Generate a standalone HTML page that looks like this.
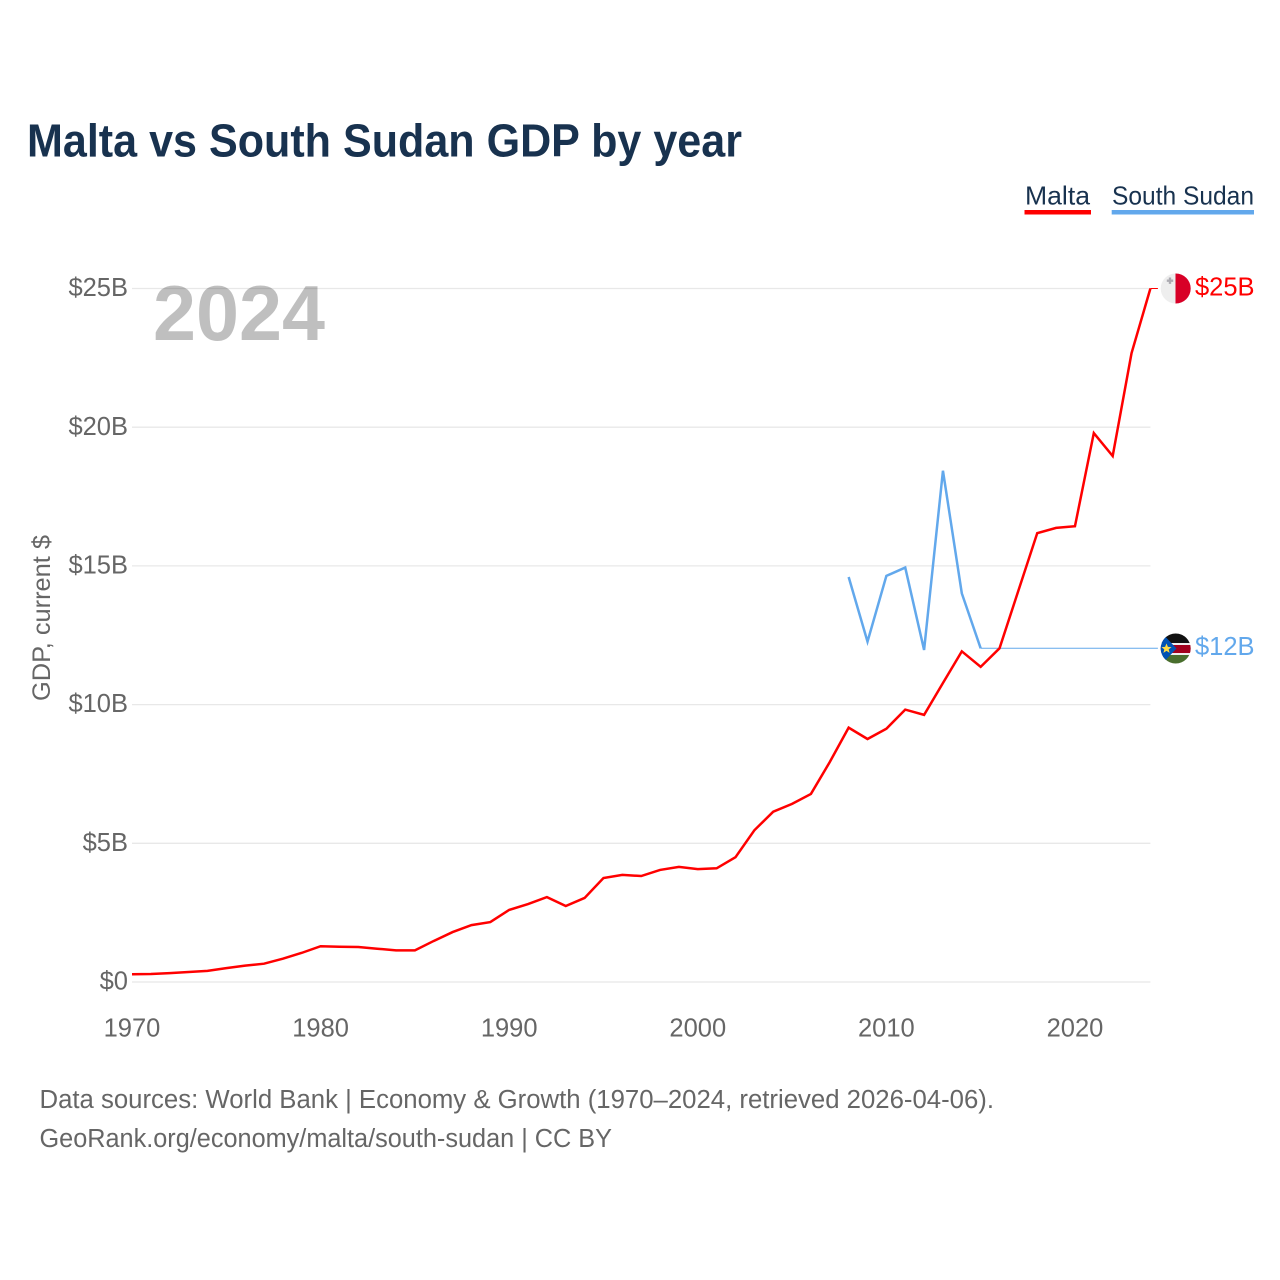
<!DOCTYPE html>
<html lang="en">
<head>
<meta charset="utf-8">
<title>Malta vs South Sudan GDP by year</title>
<style>
html,body{margin:0;padding:0;background:#fff;}
svg{display:block;font-family:"Liberation Sans",sans-serif;}
</style>
</head>
<body>
<svg id="chart" xmlns="http://www.w3.org/2000/svg" width="1280" height="1280" viewBox="0 0 1280 1280">
  <defs>
    <clipPath id="malta-clip"><circle cx="1175.7" cy="288.5" r="15"/></clipPath>
    <clipPath id="ssd-clip"><circle cx="1175.7" cy="648.5" r="15"/></clipPath>
  </defs>
  <rect width="1280" height="1280" fill="#fff"/>

  <text x="27" y="156.5" font-size="46.5" font-weight="700" fill="#18324f" textLength="715" lengthAdjust="spacingAndGlyphs">Malta vs South Sudan GDP by year</text>

  <g>
    <g>
      <text x="1025" y="204.5" font-size="26" fill="#18324f" textLength="65" lengthAdjust="spacingAndGlyphs">Malta</text>
      <rect x="1024.5" y="210" width="66.5" height="4.5" fill="#ff0000"/>
    </g>
    <g>
      <text x="1112" y="204.5" font-size="26" fill="#18324f" textLength="142" lengthAdjust="spacingAndGlyphs">South Sudan</text>
      <rect x="1111.7" y="210" width="142.3" height="4.5" fill="#62a8ec"/>
    </g>
  </g>

  <g id="grid"></g>
  <g id="y-axis"></g>
  <g id="x-axis"></g>

  <text transform="translate(50,701) rotate(-90)" font-size="25" fill="#666" textLength="166" lengthAdjust="spacingAndGlyphs">GDP, current $</text>

  <g id="series"></g>

  <text id="year-label" x="153" y="340" font-size="78" font-weight="700" fill="#000" fill-opacity="0.25" textLength="172" lengthAdjust="spacingAndGlyphs">2024</text>

  <g clip-path="url(#malta-clip)">
    <rect x="1160" y="273" width="16" height="31" fill="#eeeeee"/>
    <rect x="1175.5" y="273" width="16" height="31" fill="#d80027"/>
    <path d="M1168.8 277.5h2.4v2h2v2.4h-2v2h-2.4v-2h-2v-2.4h2z" fill="#acabb1"/>
  </g>
  <g clip-path="url(#ssd-clip)">
    <rect x="1160" y="633" width="32" height="10" fill="#111"/>
    <rect x="1160" y="643" width="32" height="12" fill="#eee"/>
    <rect x="1160" y="645" width="32" height="8" fill="#a2001d"/>
    <rect x="1160" y="655" width="32" height="10" fill="#496e2d"/>
    <path d="M1160 631L1176.5 648.5L1160 666z" fill="#0052b4"/>
    <path d="M1166.5 643.5l1.4 3.4 3.6.2-2.8 2.3.9 3.5-3.1-2-3.1 2 .9-3.5-2.8-2.3 3.6-.2z" fill="#ffda44"/>
  </g>

  <text x="39.5" y="1108" font-size="25.5" fill="#666" textLength="954.5" lengthAdjust="spacingAndGlyphs">Data sources: World Bank | Economy &amp; Growth (1970–2024, retrieved 2026-04-06).</text>
  <text x="39.5" y="1147" font-size="25.5" fill="#666" textLength="572.5" lengthAdjust="spacingAndGlyphs">GeoRank.org/economy/malta/south-sudan | CC BY</text>
</svg>
<script>
const years = [1970,1971,1972,1973,1974,1975,1976,1977,1978,1979,1980,1981,1982,1983,1984,1985,1986,1987,1988,1989,1990,1991,1992,1993,1994,1995,1996,1997,1998,1999,2000,2001,2002,2003,2004,2005,2006,2007,2008,2009,2010,2011,2012,2013,2014,2015,2016,2017,2018,2019,2020,2021,2022,2023,2024];
const maltaGdp = [0.28,0.29,0.32,0.36,0.40,0.50,0.59,0.66,0.84,1.05,1.29,1.27,1.26,1.20,1.14,1.14,1.48,1.80,2.05,2.16,2.60,2.81,3.06,2.74,3.03,3.75,3.86,3.82,4.04,4.15,4.07,4.10,4.50,5.47,6.14,6.42,6.78,7.93,9.17,8.76,9.13,9.82,9.63,10.78,11.92,11.36,12.03,14.11,16.18,16.37,16.43,19.79,18.96,22.67,25.0];
const southSudanYears = [2008,2009,2010,2011,2012,2013,2014,2015];
const southSudanGdp = [14.60,12.27,14.64,14.94,11.97,18.43,14.01,12.03];
const yTickValues = [0,5,10,15,20,25];
const yTickLabels = ['$0','$5B','$10B','$15B','$20B','$25B'];
const xTickValues = [1970,1980,1990,2000,2010,2020];
const xTickLabels = ['1970','1980','1990','2000','2010','2020'];
const maltaLabel = '$25B';
const southSudanLabel = '$12B';

const NS = 'http://www.w3.org/2000/svg';
const xScale = function (year) { return 132 + (year - 1970) * (1150.4 - 132) / (2024 - 1970); };
const yScale = function (value) { return 982 - value * (982 - 288.5) / 25; };

function make(parent, tag, attrs, text) {
  const el = document.createElementNS(NS, tag);
  for (const key in attrs) el.setAttribute(key, attrs[key]);
  if (text !== undefined) el.textContent = text;
  parent.appendChild(el);
  return el;
}
function pathFrom(xs, ys) {
  return xs.map(function (x, i) {
    return (i ? 'L' : 'M') + xScale(x).toFixed(2) + ' ' + yScale(ys[i]).toFixed(2);
  }).join('');
}

const grid = document.getElementById('grid');
const yAxis = document.getElementById('y-axis');
const xAxis = document.getElementById('x-axis');
const series = document.getElementById('series');

yTickValues.forEach(function (v, i) {
  const line = make(grid, 'line', {x1: xScale(1970), x2: xScale(2024), y1: yScale(v), y2: yScale(v), stroke: '#e8e8e8', 'stroke-width': 1.3});
  
  
  const label = make(yAxis, 'text', {x: 128, y: yScale(v) + 7.6, 'text-anchor': 'end', 'font-size': 25.5, fill: '#666'}, yTickLabels[i]);
  
  
});

xTickValues.forEach(function (v, i) {
  const label = make(xAxis, 'text', {x: xScale(v), y: 1036.5, 'text-anchor': 'middle', 'font-size': 25.5, fill: '#666'}, xTickLabels[i]);
  
  
});

const ssdLast = southSudanGdp[southSudanGdp.length - 1];
const ssdLastYear = southSudanYears[southSudanYears.length - 1];
const maltaLast = maltaGdp[maltaGdp.length - 1];
const leaderEnd = xScale(years[years.length - 1]) + 7.5;

const ssdLeader = make(series, 'line', {x1: xScale(ssdLastYear), x2: leaderEnd, y1: yScale(ssdLast), y2: yScale(ssdLast), stroke: '#62a8ec', 'stroke-width': 1});



const maltaLeader = make(series, 'line', {x1: xScale(years[years.length - 1]), x2: leaderEnd, y1: yScale(maltaLast), y2: yScale(maltaLast), stroke: '#ff0000', 'stroke-width': 1});



const ssdLine = make(series, 'path', {d: pathFrom(southSudanYears, southSudanGdp), fill: 'none', stroke: '#62a8ec', 'stroke-width': 2.5, 'stroke-linejoin': 'miter'});



const maltaLine = make(series, 'path', {d: pathFrom(years, maltaGdp), fill: 'none', stroke: '#ff0000', 'stroke-width': 2.5, 'stroke-linejoin': 'miter'});



const maltaValue = make(series, 'text', {x: 1195, y: yScale(maltaLast) + 7, 'font-size': 25.5, fill: '#ff0000'}, maltaLabel);



const ssdValue = make(series, 'text', {x: 1195, y: yScale(ssdLast) + 6.5, 'font-size': 25.5, fill: '#62a8ec'}, southSudanLabel);


</script>
</body>
</html>
